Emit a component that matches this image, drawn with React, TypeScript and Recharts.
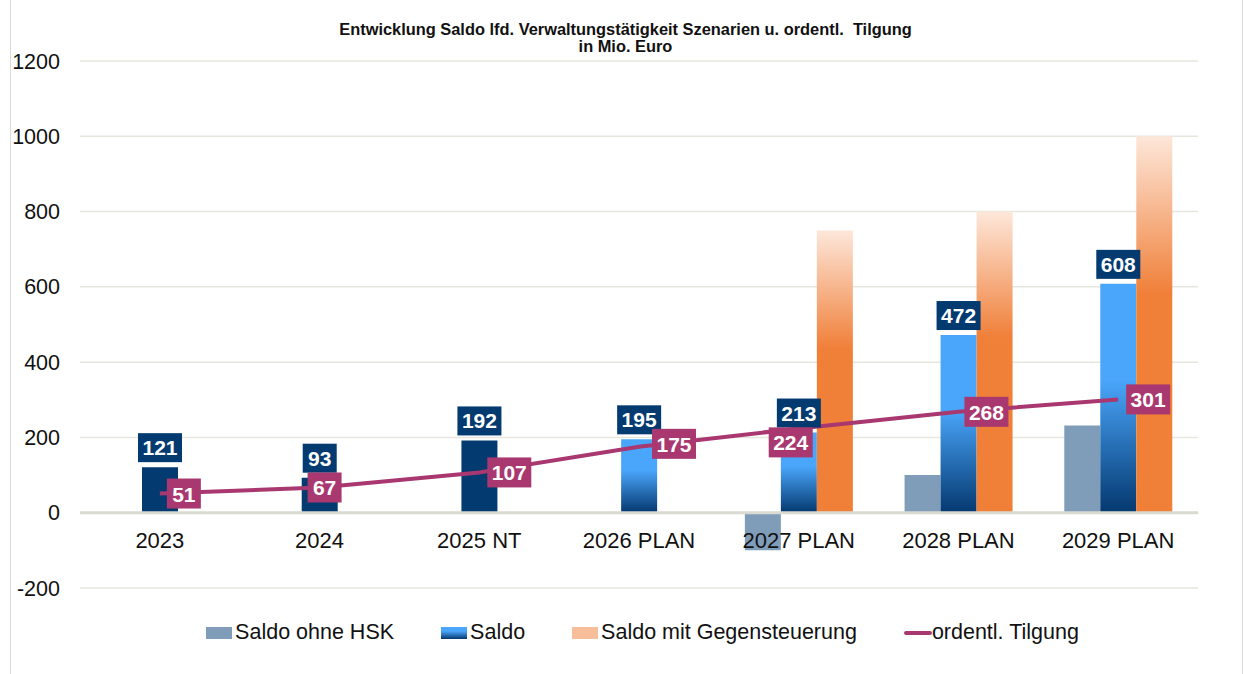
import React from 'react'
import {
  ComposedChart,
  Bar,
  Line,
  Cell,
  XAxis,
  YAxis,
  CartesianGrid,
  ReferenceLine,
  LabelList,
  Legend,
} from 'recharts'

const years = ['2023', '2024', '2025 NT', '2026 PLAN', '2027 PLAN', '2028 PLAN', '2029 PLAN']
const saldoOhneHsk = [null, null, null, null, -100, 100, 232]
const saldo = [121, 93, 192, 195, 213, 472, 608]
const saldoGegensteuerung = [null, null, null, null, 750, 800, 1000]
const tilgung = [51, 67, 107, 175, 224, 268, 301]
const yTicks = [-200, 0, 200, 400, 600, 800, 1000, 1200]

const data = years.map((year, i) => ({
  year,
  ohneHsk: saldoOhneHsk[i],
  saldo: saldo[i],
  gegen: saldoGegensteuerung[i],
  tilgung: tilgung[i],
}))

// label boxes of the Tilgung line were nudged by hand in the original
const tilgungShiftX = [24, 5, 30, 35, -8, 28, 30]
const tilgungShiftY = [0, 0, 0, -3, 14, 0, 0]

const NAVY = '#033a70'
const MAGENTA = '#a8386f'
const GREY_BLUE = '#7f9db9'
const FONT = '"Liberation Sans", Arial, sans-serif'

const boxWidth = (v: number) => (String(v).length > 2 ? 44 : 34)

const SaldoLabel = (props: any) => {
  const { x, y, width, value } = props
  if (value == null) return null
  const w = boxWidth(value)
  const cx = x + width / 2
  const bottom = y - 5
  return (
    <g>
      <rect x={cx - w / 2} y={bottom - 29} width={w} height={29} fill={NAVY} />
      <text x={cx} y={bottom - 7} textAnchor="middle" fill="#fff" fontSize={21} fontWeight="bold">
        {value}
      </text>
    </g>
  )
}

const TilgungLabel = (props: any) => {
  const { x, y, value, index } = props
  const w = boxWidth(value)
  const cx = x + tilgungShiftX[index]
  const cy = y + tilgungShiftY[index]
  return (
    <g>
      <rect x={cx - w / 2} y={cy - 15} width={w} height={30} fill={MAGENTA} />
      <text x={cx} y={cy + 8} textAnchor="middle" fill="#fff" fontSize={21} fontWeight="bold">
        {value}
      </text>
    </g>
  )
}

const YearTick = ({ x, y, payload }: any) => (
  <text x={x} y={y - 40} textAnchor="middle" fill="#111" fontSize={22}>
    {payload.value}
  </text>
)

const legendItems = [
  { label: 'Saldo ohne HSK', swatch: GREY_BLUE },
  { label: 'Saldo', swatch: 'linear-gradient(#4aa6fb 0%, #4aa6fb 35%, #05386f 100%)' },
  { label: 'Saldo mit Gegensteuerung', swatch: '#f8be9b' },
]

const renderLegend = () => (
  <div
    style={{
      display: 'flex',
      justifyContent: 'center',
      alignItems: 'center',
      fontSize: 21.5,
      color: '#111',
      fontFamily: FONT,
      paddingTop: 2,
    }}
  >
    {legendItems.map((it) => (
      <div key={it.label} style={{ display: 'flex', alignItems: 'center', marginRight: 47 }}>
        <span style={{ display: 'inline-block', width: 26, height: 12, background: it.swatch, marginRight: 3 }} />
        <span>{it.label}</span>
      </div>
    ))}
    <div style={{ display: 'flex', alignItems: 'center' }}>
      <span style={{ display: 'inline-block', width: 28, height: 4, borderRadius: 2, background: MAGENTA }} />
      <span>ordentl. Tilgung</span>
    </div>
  </div>
)

export default function App() {
  return (
    <div style={{ position: 'absolute', left: 0, top: 0, width: 1245, height: 674, fontFamily: FONT, background: '#fff' }}>
      <div
        style={{
          position: 'absolute',
          left: 10,
          top: 0,
          width: 1231,
          height: 674,
          borderLeft: '1px solid #dcdcd6',
          borderRight: '1px solid #dcdcd6',
        }}
      />
      <div
        style={{
          position: 'absolute',
          left: 10,
          top: 21,
          width: 1231,
          textAlign: 'center',
          fontSize: 16.4,
          fontWeight: 'bold',
          lineHeight: '17px',
          color: '#111',
        }}
      >
        Entwicklung Saldo lfd. Verwaltungstätigkeit Szenarien u. ordentl.&nbsp; Tilgung
        <br />
        in Mio. Euro
      </div>
      <div style={{ position: 'absolute', left: 0, top: 0 }}>
        <ComposedChart
          width={1245}
          height={674}
          data={data}
          margin={{ top: 61, right: 47, left: 20, bottom: 10 }}
          barSize={36}
          barGap={0}
        >
          <defs>
            <linearGradient id="gSaldo" x1="0" y1="0" x2="0" y2="1">
              <stop offset="0%" stopColor="#4aa6fb" />
              <stop offset="42%" stopColor="#4aa6fb" />
              <stop offset="100%" stopColor="#04386f" />
            </linearGradient>
            <linearGradient id="gGegen" x1="0" y1="0" x2="0" y2="1">
              <stop offset="0%" stopColor="#fde7da" />
              <stop offset="42%" stopColor="#f07f38" />
              <stop offset="100%" stopColor="#f07f38" />
            </linearGradient>
          </defs>
          <CartesianGrid vertical={false} stroke="#e6e6df" strokeWidth={1.5} />
          <XAxis
            dataKey="year"
            axisLine={false}
            tickLine={false}
            tickSize={0}
            tickMargin={0}
            height={30}
            interval={0}
            tick={<YearTick />}
          />
          <YAxis
            domain={[-200, 1200]}
            ticks={yTicks}
            width={60}
            axisLine={false}
            tickLine={false}
            tickSize={0}
            tickMargin={20}
            tick={{ fill: '#111', fontSize: 21.5 }}
          />
          <ReferenceLine y={0} stroke="#dadad2" strokeWidth={3} />
          <Bar dataKey="ohneHsk" fill={GREY_BLUE} isAnimationActive={false} />
          <Bar dataKey="saldo" isAnimationActive={false}>
            {data.map((_, i) => (
              <Cell key={`s-${i}`} fill={i < 3 ? NAVY : 'url(#gSaldo)'} />
            ))}
            <LabelList dataKey="saldo" content={<SaldoLabel />} />
          </Bar>
          <Bar dataKey="gegen" fill="url(#gGegen)" isAnimationActive={false} />
          <Line
            dataKey="tilgung"
            stroke={MAGENTA}
            strokeWidth={4}
            dot={false}
            type="linear"
            isAnimationActive={false}
          >
            <LabelList dataKey="tilgung" content={<TilgungLabel />} />
          </Line>
          <Legend
            verticalAlign="bottom"
            height={46}
            content={renderLegend}
            wrapperStyle={{ left: 40, width: 1205 }}
          />
        </ComposedChart>
      </div>
    </div>
  )
}
